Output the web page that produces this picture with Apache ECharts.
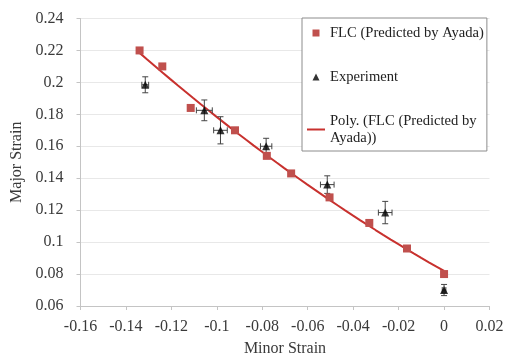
<!DOCTYPE html>
<html>
<head>
<meta charset="utf-8">
<script src="https://cdn.jsdelivr.net/npm/echarts@6/dist/echarts.min.js"></script>
<style>html,body{margin:0;padding:0;background:#fff;}#c{width:505px;height:358px;}</style>
</head>
<body>
<div id="c"></div>
<script>
// FLC predicted (red squares)
var flcX = [-0.134, -0.124, -0.1115, -0.092, -0.078, -0.0673, -0.0504, -0.0329, -0.0163, 0.0];
var flcY = [0.220, 0.210, 0.184, 0.170, 0.154, 0.143, 0.128, 0.112, 0.096, 0.080];
// Experiment (black triangles) with error bars
var expX = [-0.1315, -0.1055, -0.0984, -0.0783, -0.0514, -0.0259, 0.0];
var expY = [0.1985, 0.1825, 0.170, 0.160, 0.136, 0.1185, 0.070];
var expXErr = [0.0015, 0.0035, 0.003, 0.0025, 0.003, 0.003, 0.0008];
var expYErr = [0.005, 0.0065, 0.0085, 0.005, 0.0055, 0.007, 0.0035];
var xTicks = [-0.16, -0.14, -0.12, -0.1, -0.08, -0.06, -0.04, -0.02, 0, 0.02];
var yTicks = [0.06, 0.08, 0.1, 0.12, 0.14, 0.16, 0.18, 0.2, 0.22, 0.24];

// quadratic least-squares trendline (Excel "Poly." order 2)
function polyFit2(xs, ys) {
  var n = xs.length, s = [0,0,0,0,0], t = [0,0,0];
  for (var i = 0; i < n; i++) {
    var x = xs[i], y = ys[i];
    s[0] += 1; s[1] += x; s[2] += x*x; s[3] += x*x*x; s[4] += x*x*x*x;
    t[0] += y; t[1] += x*y; t[2] += x*x*y;
  }
  var A = [[s[0],s[1],s[2],t[0]],[s[1],s[2],s[3],t[1]],[s[2],s[3],s[4],t[2]]];
  for (var c = 0; c < 3; c++) {
    for (var r = c+1; r < 3; r++) {
      var f = A[r][c]/A[c][c];
      for (var k = c; k < 4; k++) A[r][k] -= f*A[c][k];
    }
  }
  var b = [0,0,0];
  for (var r2 = 2; r2 >= 0; r2--) {
    var v = A[r2][3];
    for (var k2 = r2+1; k2 < 3; k2++) v -= A[r2][k2]*b[k2];
    b[r2] = v/A[r2][r2];
  }
  return b;
}
var coef = polyFit2(flcX, flcY);
var trend = [];
var xmin = Math.min.apply(null, flcX), xmax = Math.max.apply(null, flcX);
for (var i = 0; i <= 40; i++) {
  var x = xmin + (xmax - xmin) * i / 40;
  trend.push([x, coef[0] + coef[1]*x + coef[2]*x*x]);
}

var flcData = flcX.map(function(x, i){ return [x, flcY[i]]; });
var expData = expX.map(function(x, i){ return [x, expY[i]]; });
var errData = expX.map(function(x, i){ return [x, expY[i], expXErr[i], expYErr[i]]; });

var font = '"Liberation Serif", "Times New Roman", serif';
var txt = '#3a3a3a';
function fmt(v){ return String(Math.round(v*100)/100); }
var chart = echarts.init(document.getElementById('c'));
chart.setOption({
  animation: false,
  backgroundColor: '#fff',
  grid: { left: 80.5, right: 15.5, top: 18.5, bottom: 52, containLabel: false, outerBoundsMode: 'none' },
  xAxis: {
    type: 'value', min: -0.16, max: 0.02, interval: 0.02,
    name: 'Minor Strain', nameLocation: 'middle', nameGap: 35,
    nameTextStyle: { fontFamily: font, fontSize: 16, color: txt },
    axisLine: { show: true, onZero: false, lineStyle: { color: '#c4c4c4' } },
    axisTick: { show: true, inside: false, length: 4, lineStyle: { color: '#c4c4c4' } },
    splitLine: { show: false },
    axisLabel: { fontFamily: font, fontSize: 16, color: txt, margin: 13, formatter: fmt }
  },
  yAxis: {
    type: 'value', min: 0.06, max: 0.24, interval: 0.02,
    name: 'Major Strain', nameLocation: 'middle', nameGap: 52,
    nameTextStyle: { fontFamily: font, fontSize: 16, color: txt },
    axisLine: { show: true, onZero: false, lineStyle: { color: '#c4c4c4' } },
    axisTick: { show: true, inside: false, length: 4, lineStyle: { color: '#c4c4c4' } },
    splitLine: { show: true, lineStyle: { color: '#e8e8e8' } },
    axisLabel: { fontFamily: font, fontSize: 16, color: txt, margin: 17, formatter: fmt }
  },
  legend: {
    orient: 'vertical', left: 302, top: 18,
    padding: [6.5, 3, 4.5, 5],
    itemGap: 27,
    borderColor: '#8c8c8c', borderWidth: 1, backgroundColor: '#fff',
    itemWidth: 18, itemHeight: 7,
    textStyle: { fontFamily: font, fontSize: 14.6, color: '#222', lineHeight: 17 },
    data: [
      { name: 'FLC (Predicted by Ayada)', icon: 'path://M0,0H1V1H0Z' },
      { name: 'Experiment', icon: 'path://M0.5,0L1,1H0Z' },
      { name: 'Poly. (FLC (Predicted by\nAyada))', icon: 'path://M0,0H18V2H0Z' }
    ]
  },
  series: [
    {
      name: 'Poly. (FLC (Predicted by\nAyada))', type: 'line', data: trend,
      showSymbol: false, symbol: 'none', smooth: false,
      lineStyle: { color: '#c8312e', width: 2 }, itemStyle: { color: '#c8312e' }, z: 2
    },
    {
      name: 'FLC (Predicted by Ayada)', type: 'scatter', data: flcData,
      symbol: 'rect', symbolSize: 8, itemStyle: { color: '#c0504d', opacity: 1 }, z: 3
    },
    {
      name: 'Experiment-err', type: 'custom', data: errData, z: 3,
      renderItem: function(params, api) {
        var x = api.value(0), y = api.value(1), ex = api.value(2), ey = api.value(3);
        var c = api.coord([x, y]);
        var l = api.coord([x - ex, y]), r = api.coord([x + ex, y]);
        var t = api.coord([x, y + ey]), b = api.coord([x, y - ey]);
        var st = { stroke: '#444', lineWidth: 1 };
        var cap = 3;
        return { type: 'group', children: [
          { type: 'line', shape: { x1: l[0], y1: c[1], x2: r[0], y2: c[1] }, style: st },
          { type: 'line', shape: { x1: l[0], y1: c[1]-cap, x2: l[0], y2: c[1]+cap }, style: st },
          { type: 'line', shape: { x1: r[0], y1: c[1]-cap, x2: r[0], y2: c[1]+cap }, style: st },
          { type: 'line', shape: { x1: c[0], y1: t[1], x2: c[0], y2: b[1] }, style: st },
          { type: 'line', shape: { x1: c[0]-cap, y1: t[1], x2: c[0]+cap, y2: t[1] }, style: st },
          { type: 'line', shape: { x1: c[0]-cap, y1: b[1], x2: c[0]+cap, y2: b[1] }, style: st }
        ]};
      }
    },
    {
      name: 'Experiment', type: 'scatter', data: expData,
      symbol: 'triangle', symbolSize: 8, itemStyle: { color: '#000' }, z: 4
    }
  ]
});
</script>
</body>
</html>
